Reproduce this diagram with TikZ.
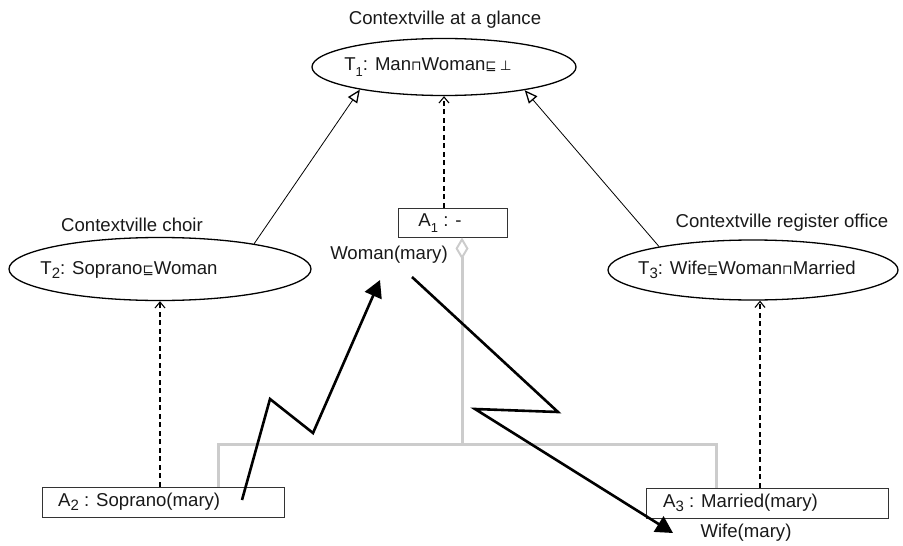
\documentclass[tikz,border=0pt]{standalone}
\usepackage{fontspec}
\setmainfont{Liberation Sans}
\newfontfamily\symf{DejaVu Sans}
\usetikzlibrary{arrows.meta,shapes.geometric}
\newcommand{\lsub}[1]{\raisebox{-0.3em}{\fontsize{13}{13}\selectfont #1}}
\newcommand{\lsubb}[1]{\raisebox{-0.22em}{\fontsize{15}{15}\selectfont #1}}
\newcommand{\sy}[1]{{\symf\fontsize{13.5}{13.5}\selectfont #1}}
\begin{document}
\begin{tikzpicture}[x=1pt,y=-1pt,
  every node/.style={font=\fontsize{18.6}{22}\selectfont, text=black!90, inner sep=0pt},
  ell/.style={ellipse, draw, line width=1.3pt},
  abox/.style={draw=black!80, line width=1pt},
  spec/.style={line width=0.8pt, -{Triangle[open, length=13pt, width=11pt, line width=1.3pt]}},
  dasharrow/.style={line width=1.2pt, dash pattern=on 5pt off 3.5pt, -{Straight Barb[length=6pt, width=10pt, line width=1.1pt]}},
  greyline/.style={draw=black!20, line width=3pt},
  zig/.style={line width=2.6pt, line join=miter, -{Triangle[length=17pt, width=18pt]}}
]
\useasboundingbox (0,0) rectangle (903,546);

% ellipses (theories)
\node[ell, minimum width=264pt, minimum height=57pt] (T1) at (444,67) {};
\node (T1t) at (428,67) {T\lsub{1}: Man\sy{⊓}Woman\sy{⊑}\,\sy{⊥}};
\node (T1l) at (445,20) {Contextville at a glance};

\node[ell, minimum width=302pt, minimum height=63pt] (T2) at (160,269) {};
\node (T2t) at (129,270) {T\lsubb{2}: Soprano\sy{⊑}Woman};
\node (T2l) at (132,225) {Contextville choir};

\node[ell, minimum width=290pt, minimum height=60pt] (T3) at (753,270) {};
\node (T3t) at (747,270) {T\lsubb{3}: Wife\sy{⊑}Woman\sy{⊓}Married};
\node (T3l) at (782,223) {Contextville register office};

% boxes (assertions)
\node[abox, minimum width=109pt, minimum height=29pt] (A1) at (452.5,222.5) {};
\node (A1t) at (440,223) {A\lsub{1} : -};
\node[abox, minimum width=242pt, minimum height=30pt] (A2) at (163,502) {};
\node[anchor=west] (A2t) at (58,502) {A\lsubb{2} : Soprano(mary)};
\node[abox, minimum width=242pt, minimum height=30pt] (A3) at (767,503) {};
\node[anchor=west] (A3t) at (663,503) {A\lsubb{3} : Married(mary)};

\node (W) at (389,255) {Woman(mary)};
\node (Wi) at (746,533) {Wife(mary)};

% generalisations
\draw[spec] (T2.15.7) -- (T1.195);
\draw[spec] (T3.166) -- (T1.344.5);

% dashed dependencies
\draw[dasharrow] (A1.north -| T1.south) -- (T1.south);
\draw[dasharrow] (A2.north -| T2.south) -- (T2.south);
\draw[dasharrow] ([xshift=7pt]A3.north -| T3.south) -- ([xshift=7pt]T3.south);

% grey aggregation tree
\coordinate (hub) at (462,444);
\coordinate (gl) at (218,444);
\coordinate (gr) at (716,444);
\draw[greyline, {Diamond[open, length=22pt, width=13pt, line width=2pt]}-] (A1.south -| hub) -- (hub);
\draw[greyline] (A2.north -| gl) -- (gl) -- (gr) -- (A3.north -| gr);

% zigzag inference arrows
\coordinate (s1) at (242,500);
\coordinate (b1) at (270,399);
\coordinate (b2) at (313,433);
\coordinate (e1) at (380,280);
\draw[zig] (s1) -- (b1) -- (b2) -- (e1);
\coordinate (s2) at (412,277);
\coordinate (c1) at (558,412);
\coordinate (c2) at (475,409);
\coordinate (e2) at (673,533);
\draw[zig] (s2) -- (c1) -- (c2) -- (e2);
\end{tikzpicture}
\end{document}
